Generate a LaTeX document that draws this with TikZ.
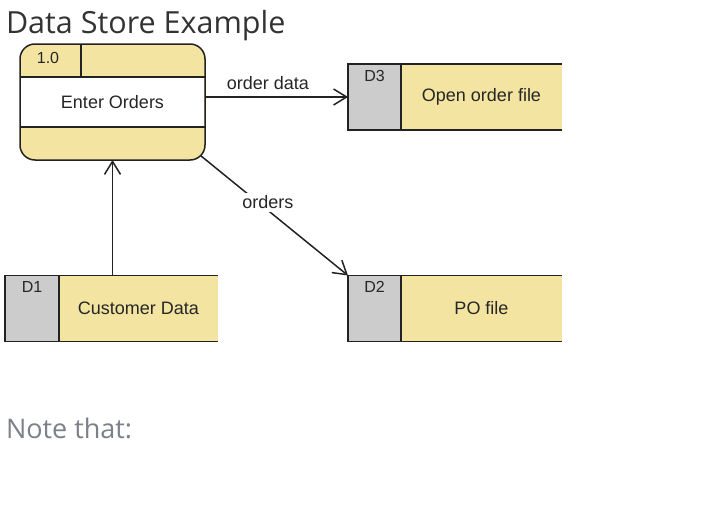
\documentclass[tikz,border=0pt]{standalone}
\usepackage{fontspec}
\setmainfont{Liberation Sans}
\newfontfamily\opensans{Open Sans}
\usetikzlibrary{arrows.meta}
\definecolor{dfdyellow}{HTML}{F3E5A1}
\definecolor{dfdgray}{HTML}{CCCCCC}
\definecolor{lineclr}{HTML}{222222}
\definecolor{txtclr}{HTML}{262626}
\definecolor{titleclr}{HTML}{333333}
\definecolor{notegray}{HTML}{7B8089}
\begin{document}
\begin{tikzpicture}[x=1pt,y=-1pt,
  line width=1.5pt,
  every node/.style={text=txtclr, outer sep=0pt},
  lbl/.style={font=\fontsize{18}{20}\selectfont, inner sep=1pt},
  idtxt/.style={font=\fontsize{16}{18}\selectfont, inner sep=0pt, anchor=north},
  procbox/.style={fill=dfdyellow, draw=lineclr, rounded corners=15pt,
    minimum width=185pt, minimum height=116pt, inner sep=0pt, lbl},
  storebox/.style={fill=dfdyellow, minimum width=161pt, minimum height=66pt, inner sep=0pt, lbl},
  storeid/.style={fill=dfdgray, minimum width=53pt, minimum height=66pt, inner sep=0pt, anchor=east},
  border/.style={draw=lineclr},
  flow/.style={draw=lineclr, -{Straight Barb[length=13pt,width=16pt,line width=1.5pt]}},
  flowlbl/.style={lbl, fill=white, inner sep=3pt}
]
\useasboundingbox (0,0) rectangle (717,506);

% title
\node[anchor=base west, inner sep=0pt, text=titleclr, font=\opensans\fontsize{30.5}{34}\selectfont] (title) at (6,33) {Data Store Example};

% process
\node[procbox] (p) at (112.5,102) {};
\fill[white] (20.8,77) rectangle (204.2,127);
\draw[border] (20,77) -- (205,77);
\draw[border] (20,127) -- (205,127);
\draw[border] (81,44) -- (81,77);
\node[lbl] (ptext) at (p.center) {Enter Orders};
\node[idtxt] (pid) at (48,52.5) {1.0};

% D3
\node[storebox] (d3) at (481.5,97) {Open order file};
\node[storeid] (d3id) at (d3.west) {};
\node[idtxt] (d3t) at ([yshift=-6pt]d3id.north) {D3};
\draw[border] (d3.north east) -- (d3id.north west) -- (d3id.south west) -- (d3.south east);
\draw[border] (d3id.north east) -- (d3id.south east);

% D1
\node[storebox, minimum width=159pt] (d1) at (138.5,308.5) {Customer Data};
\node[storeid, minimum width=54pt] (d1id) at (d1.west) {};
\node[idtxt] (d1t) at ([yshift=-6pt]d1id.north) {D1};
\draw[border] (d1.north east) -- (d1id.north west) -- (d1id.south west) -- (d1.south east);
\draw[border] (d1id.north east) -- (d1id.south east);

% D2
\node[storebox] (d2) at (481.5,308.5) {PO file};
\node[storeid] (d2id) at (d2.west) {};
\node[idtxt] (d2t) at ([yshift=-6pt]d2id.north) {D2};
\draw[border] (d2.north east) -- (d2id.north west) -- (d2id.south west) -- (d2.south east);
\draw[border] (d2id.north east) -- (d2id.south east);

% flows
\draw[flow] (d3id.west -| p.east) -- (d3id.west)
  node[lbl, pos=0.44, above=6pt] (l1) {order data};
\draw[flow] (d1.north -| p.south) -- (p.south);
\coordinate (pc) at ([xshift=-4.4pt,yshift=4.4pt]p.south east);
\draw[flow] (pc) -- (d2id.north west)
  node[flowlbl, pos=0.457, yshift=8pt] (l2) {orders};

% note
\node[anchor=base west, inner sep=0pt, text=notegray, font=\opensans\fontsize{27}{31}\selectfont] (note) at (6,438) {Note that:};
\end{tikzpicture}
\end{document}
